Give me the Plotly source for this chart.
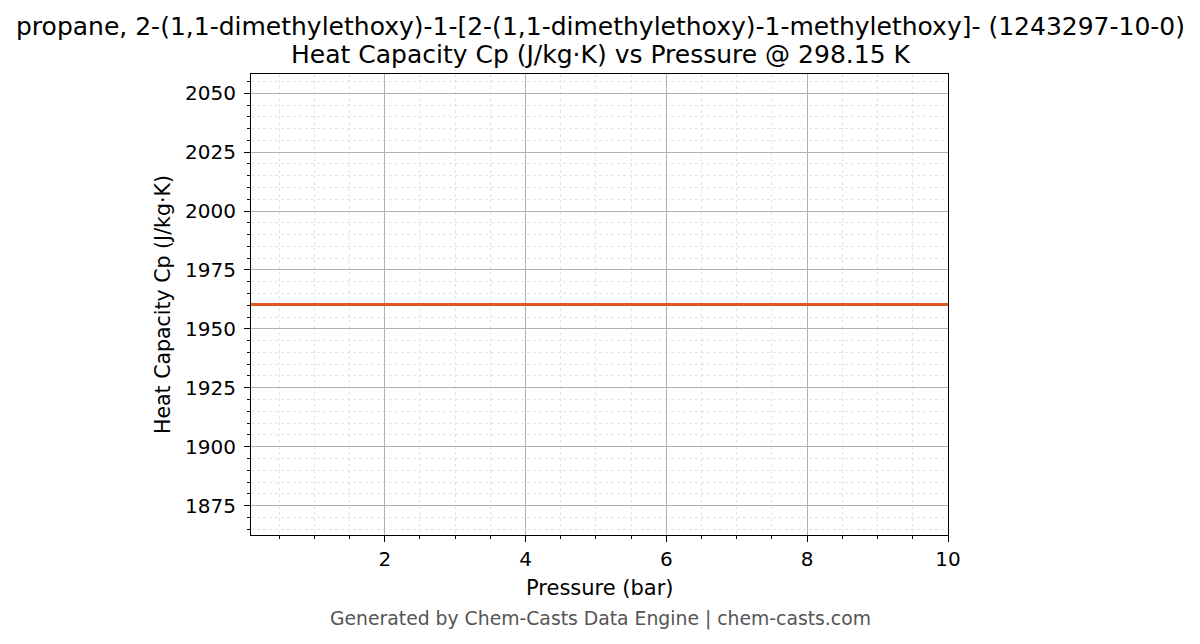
import plotly.graph_objects as go

pressure_bar = [0.1, 1, 2, 3, 4, 5, 6, 7, 8, 9, 10]
cp_values = [1960.4, 1960.4, 1960.4, 1960.4, 1960.4, 1960.4, 1960.4, 1960.4, 1960.4, 1960.4, 1960.4]
title_line1 = "propane, 2-(1,1-dimethylethoxy)-1-[2-(1,1-dimethylethoxy)-1-methylethoxy]- (1243297-10-0)"
title_line2 = "Heat Capacity Cp (J/kg·K) vs Pressure @ 298.15 K"
x_label = "Pressure (bar)"
y_label = "Heat Capacity Cp (J/kg·K)"
footer = "Generated by Chem-Casts Data Engine | chem-casts.com"

# page body has an 8px default margin; work in window coords and subtract it
OFF = 8
W, H = 1200 - OFF, 644 - OFF
L, R, T, B = 251 - OFF, 948 - OFF, 74 - OFF, 535 - OFF
font = "DejaVu Sans"

fig = go.Figure()
fig.add_trace(go.Scatter(x=pressure_bar, y=cp_values, mode="lines",
                         line=dict(color="#E0561F", width=3), showlegend=False))

axis_common = dict(
    showline=True, linecolor="black", linewidth=1.2, mirror=True,
    ticks="outside", ticklen=6, tickwidth=1.2, tickcolor="black",
    showgrid=True, gridcolor="#b0b0b0", gridwidth=0.8, zeroline=False,
    tickfont=dict(family=font, size=20, color="black"),
)
fig.update_xaxes(**axis_common, range=[0.1, 10], tick0=0, dtick=2,
                 minor=dict(dtick=0.5, tick0=0, showgrid=True, gridcolor="#e3e3e3",
                            griddash="dot", gridwidth=0.8, ticks="outside", ticklen=3,
                            tickcolor="black"))
fig.update_yaxes(**axis_common, range=[1862.5, 2058.2], tick0=1875, dtick=25,
                 ticklabelstandoff=4,
                 minor=dict(dtick=5, tick0=1875, showgrid=True, gridcolor="#e3e3e3",
                            griddash="dot", gridwidth=0.8, ticks="outside", ticklen=3,
                            tickcolor="black"))


def place(text, wx, wy, size, color="black", angle=0):
    # wx, wy in window pixel coords
    px = wx - OFF
    py = wy - OFF
    return dict(text=text, x=(px - L) / (R - L), y=(B - py) / (B - T),
                xref="paper", yref="paper", showarrow=False,
                xanchor="center", yanchor="middle", textangle=angle,
                font=dict(family=font, size=size, color=color))


ann = [
    place(title_line1, 600, 26, 25),
    place(title_line2, 600, 54, 25),
    place(x_label, 600, 588, 21),
    place(y_label, 163, 305, 20.5, angle=-90),
    place(footer, 600, 619, 18.8, color="#555555"),
]

fig.update_layout(width=W, height=H, margin=dict(l=L, r=W - R, t=T, b=H - B),
                  paper_bgcolor="white", plot_bgcolor="white", annotations=ann,
                  font=dict(family=font))
fig.write_html("out.html")
